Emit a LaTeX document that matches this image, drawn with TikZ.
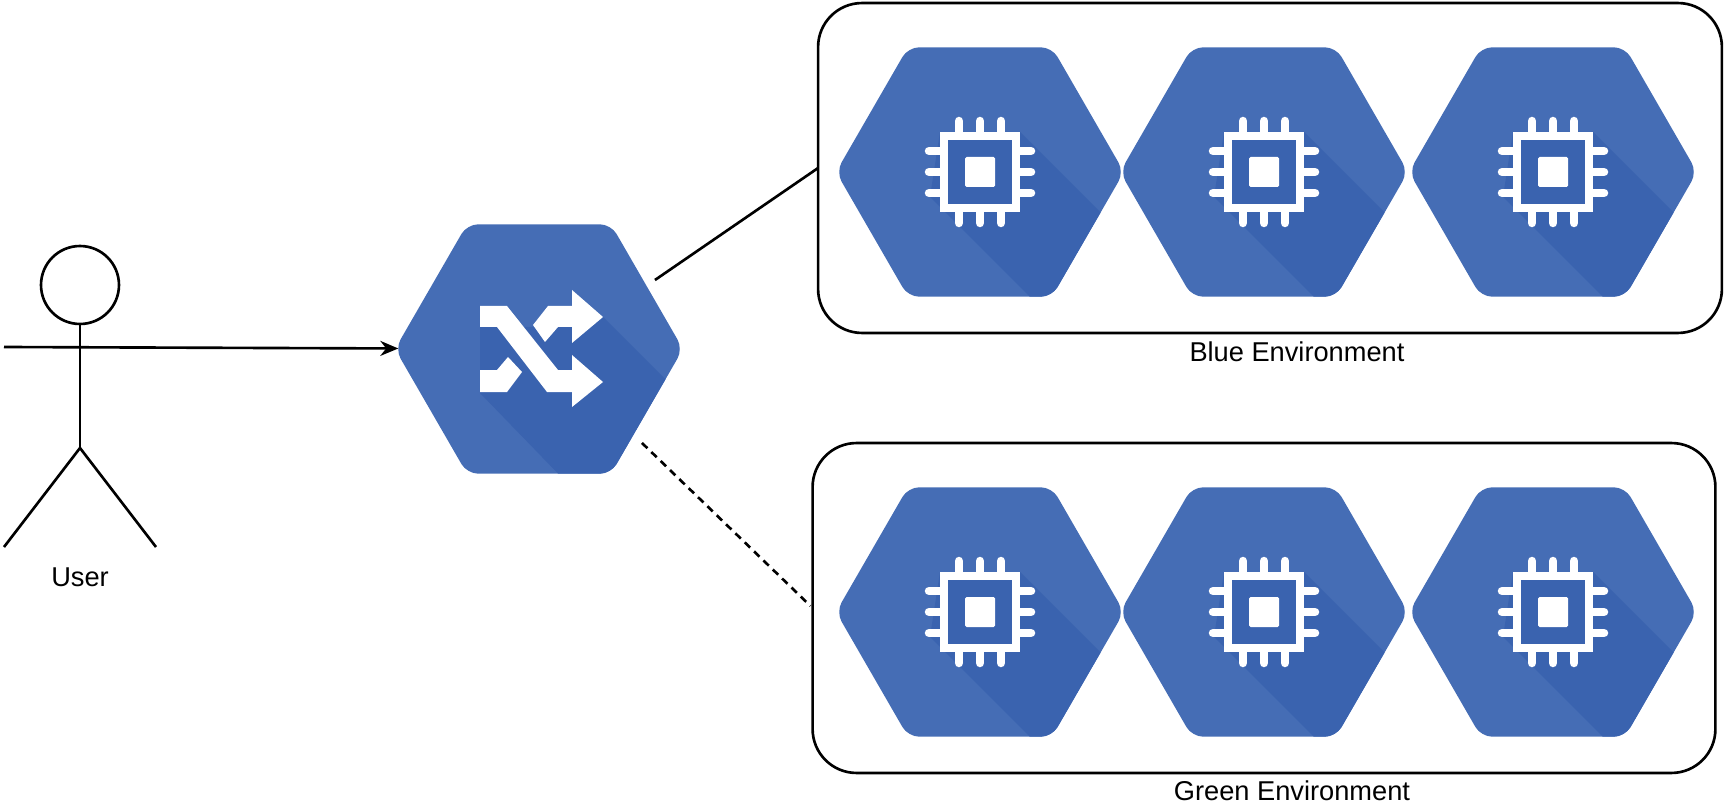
\documentclass[tikz,border=0pt]{standalone}
\usepackage{fontspec}
\setmainfont{Liberation Sans}
\usetikzlibrary{arrows.meta,shapes.geometric}
\definecolor{hexblue}{HTML}{456DB5}
\definecolor{hexshade}{HTML}{3A63AF}
% Icon drawn on a flat-topped hexagon, in pixels from its centre
\def\chipicon{%
  \fill[hexshade] (-40,-40) -- (40,-40) -- (150,70) -- (150,140) -- (65,140) -- (-50,25) -- cycle;
  \draw[white,line width=0.16cm,sharp corners] (-36,-36) rectangle (36,36);
  \fill[white,rounded corners=0.03cm] (-15,-15) rectangle (15,15);
  \foreach \p in {-21,0,21} {
    \draw[white,line width=0.17cm,line cap=round] (\p,-40) -- (\p,-51);
    \draw[white,line width=0.17cm,line cap=round] (\p,40) -- (\p,51);
    \draw[white,line width=0.17cm,line cap=round] (-40,\p) -- (-51,\p);
    \draw[white,line width=0.17cm,line cap=round] (40,\p) -- (51,\p);
  }}
\def\switchicon{%
  \fill[hexshade] (-59,-22) -- (33,-22) -- (64,-32) -- (150,54) -- (150,140) -- (34,140) -- (-59,44) -- cycle;
  \fill[white] (-59,-43) -- (-32,-43) -- (19,21) -- (33,21) -- (33,6) -- (64,33) -- (33,58)
    -- (33,43) -- (8,43) -- (-42,-22) -- (-59,-22) -- cycle;
  \fill[white] (-6,-24) -- (9,-43) -- (33,-43) -- (33,-59) -- (64,-32) -- (33,-6) -- (33,-22)
    -- (19,-22) -- (6,-7) -- cycle;
  \fill[white] (-59,21) -- (-42,21) -- (-31,8) -- (-17,23) -- (-32,43) -- (-59,43) -- cycle;}
\tikzset{
  hexbase/.style={regular polygon,regular polygon sides=6,
    minimum size=5.76cm,inner sep=0pt,outer sep=0pt,fill=hexblue,rounded corners=0.22cm},
  chiphex/.style={hexbase,path picture={
    \begin{scope}[shift={(path picture bounding box.center)},sharp corners]\chipicon\end{scope}}},
  switchhex/.style={hexbase,path picture={
    \begin{scope}[shift={(path picture bounding box.center)},sharp corners]\switchicon\end{scope}}},
  envbox/.style={draw,line width=1.5pt,rounded corners=0.88cm,inner sep=0pt,outer sep=0pt},
  caption/.style={font=\fontsize{15.5}{18}\selectfont,inner sep=0pt},
  wire/.style={line width=1.5pt},
}
\begin{document}
\begin{tikzpicture}[>={Stealth[length=0.36cm,width=0.3cm]},x=0.02cm,y=-0.02cm]
  \useasboundingbox (0,0) rectangle (1725,804);
  %
  % Environments
  \node[envbox,minimum width=18.08cm,minimum height=6.6cm] (blueenv) at (1270,168) {};
  \node[envbox,minimum width=18.06cm,minimum height=6.6cm] (greenenv) at (1264,608) {};
  \foreach \i/\x in {1/980,2/1264,3/1553} {
    \node[chiphex] (blue\i) at (\x,172) {};
    \node[chiphex] (green\i) at (\x,612) {};
  }
  \node[caption] (bluelabel) at (1297,352) {Blue Environment};
  \node[caption] (greenlabel) at (1292,791) {Green Environment};
  %
  % Load balancer
  \node[switchhex] (switch) at (539,349) {};
  %
  % User
  \node[draw,circle,line width=1.5pt,minimum size=1.56cm,inner sep=0pt,outer sep=0pt] (head) at (80,285) {};
  \coordinate (armleft) at (4,347);
  \coordinate (hip) at (80,448);
  \coordinate (footleft) at (4,547);
  \coordinate (footright) at (156,547);
  \node[caption] (userlabel) at (80,577) {User};
  \draw[wire] (head) -- (hip);
  \draw[wire] (footleft) -- (hip) -- (footright);
  %
  % Connections
  \draw[wire,->,shorten >=-0.06cm] (armleft) -- (switch);
  \draw[wire] ([xshift=2.32cm,yshift=1.38cm]switch.center) -- (blueenv.west);
  \draw[wire,dash pattern=on 0.15cm off 0.11cm,shorten >=0.06cm]
    ([xshift=2.06cm,yshift=-1.88cm]switch.center) -- (greenenv.west);
\end{tikzpicture}
\end{document}
